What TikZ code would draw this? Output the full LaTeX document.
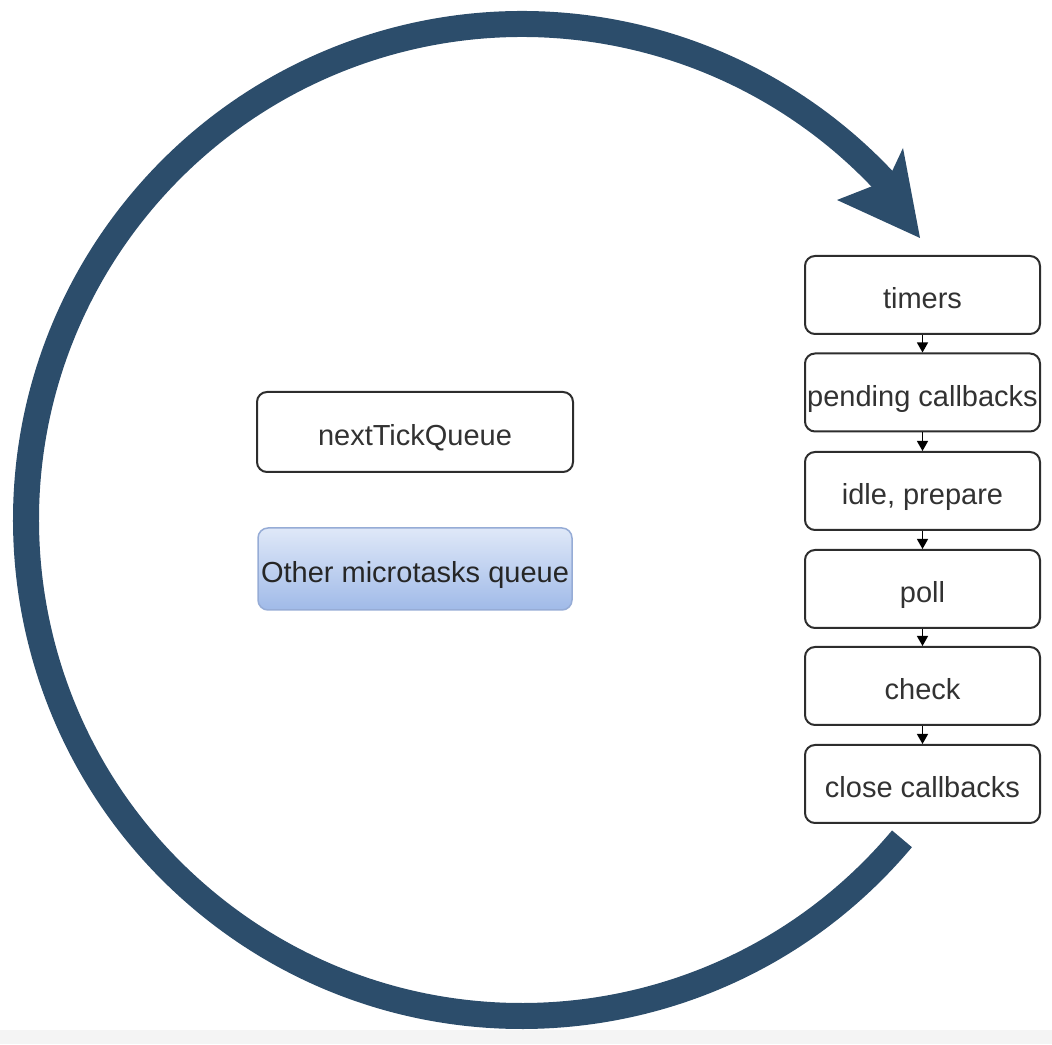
\documentclass[tikz,border=0pt]{standalone}
\usepackage{fontspec}
\setmainfont{Liberation Sans}
\usetikzlibrary{arrows.meta,calc}
\definecolor{loopblue}{RGB}{44,77,107}
\definecolor{boxline}{RGB}{45,45,45}
\definecolor{boxtext}{RGB}{50,50,50}
\definecolor{mqtop}{RGB}{223,232,248}
\definecolor{mqbot}{RGB}{160,186,232}
\definecolor{mqline}{RGB}{150,172,214}
\definecolor{stripgray}{RGB}{244,244,244}
\begin{document}
\begin{tikzpicture}[x=1pt,y=1pt,
  boxfont/.style={font=\fontsize{29}{34}\selectfont, text height=28pt, text depth=0pt},
  phase/.style={boxfont, draw=boxline, line width=2pt, rounded corners=10pt, fill=white,
    minimum width=235pt, minimum height=78pt, inner sep=0pt, text=boxtext},
  queuebox/.style={boxfont, draw=boxline, line width=2pt, rounded corners=10pt, fill=white,
    minimum width=316pt, minimum height=80pt, inner sep=0pt, text=boxtext},
  microbox/.style={boxfont, draw=mqline, line width=1.5pt, rounded corners=10pt,
    top color=mqtop, bottom color=mqbot,
    minimum width=314pt, minimum height=82pt, inner sep=0pt, text=black!85},
  flow/.style={draw=black, line width=1.2pt, -{Triangle[length=10pt,width=11pt]}},
  loop/.style={draw=loopblue, line width=26pt}
]
\useasboundingbox (0,0) rectangle (1052,1044);
\fill[stripgray] (0,0) rectangle (1052,14);

% the big event-loop arc and its arrowhead
\coordinate (c) at (522,524);
\draw[loop] ([shift={(-40:496)}]c) arc[start angle=-40, end angle=-318, radius=496];
\coordinate (tip)   at (920,806);
\coordinate (barbA) at (837,844);
\coordinate (notch) at (888,864);
\coordinate (barbB) at (903,896);
\fill[loopblue] (tip) -- (barbA) -- (notch) -- (barbB) -- cycle;

% phases of the loop
\node[phase] (timers)  at (922.5,749)   {timers};
\node[phase] (pending) at (922.5,651.5) {pending callbacks};
\node[phase] (idle)    at (922.5,553)   {idle, prepare};
\node[phase] (poll)    at (922.5,455)   {poll};
\node[phase] (check)   at (922.5,358)   {check};
\node[phase] (close)   at (922.5,260)   {close callbacks};

\draw[flow] (timers.south)  -- (pending.north);
\draw[flow] (pending.south) -- (idle.north);
\draw[flow] (idle.south)    -- (poll.north);
\draw[flow] (poll.south)    -- (check.north);
\draw[flow] (check.south)   -- (close.north);

% microtask queues
\node[queuebox] (ntq) at (415,612) {nextTickQueue};
\node[microbox] (mtq) at (415,475) {Other microtasks queue};
\end{tikzpicture}
\end{document}
